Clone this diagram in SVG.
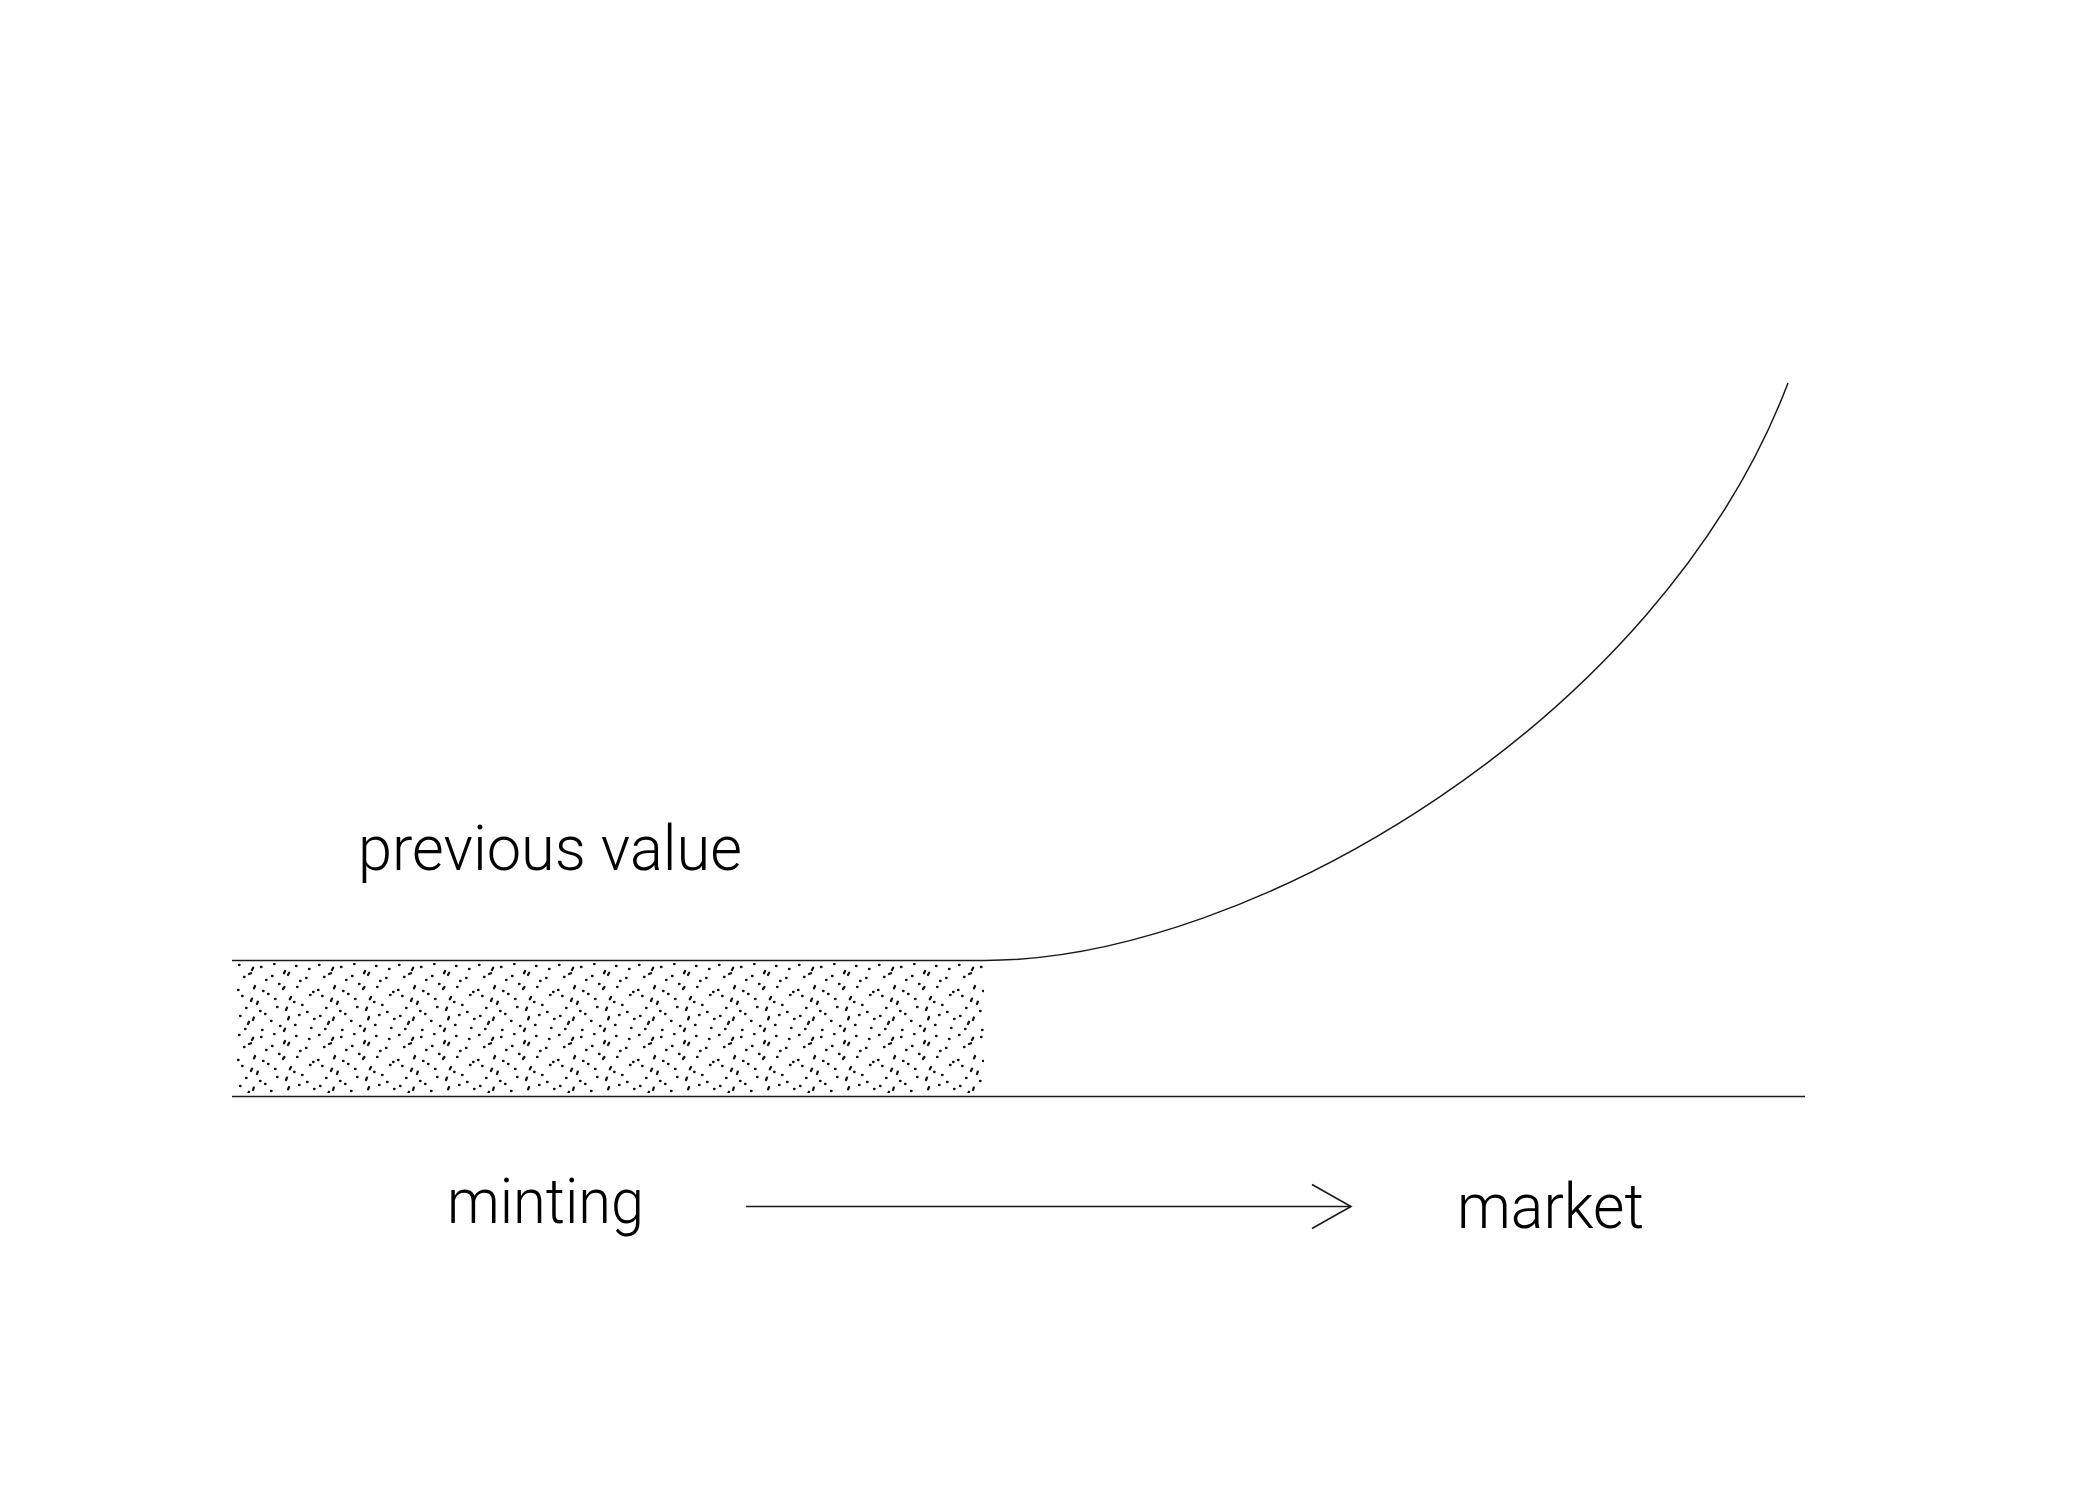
<svg xmlns="http://www.w3.org/2000/svg" width="2100" height="1500" viewBox="0 0 2100 1500">
  <style>
    .ln { fill: none; stroke: #1a1a1a; stroke-width: 1.5; }
    .lbl { font-family: Roboto, "Liberation Sans", Arial, sans-serif; font-weight: 300; font-size: 63px; fill: #000; }
    .dots { fill: none; stroke: #111; stroke-width: 2.3; stroke-linecap: round; }
  </style>
  <defs>
    <pattern id="stipple" x="236" y="963" width="80" height="70" patternUnits="userSpaceOnUse">
      <path class="dots" d="M3 2h0.6M16 7l1.2 -2.2M25 4h0.6M38 1h0.6M49 8l-1 2.2M60 3h0.6M73 6h0.6
        M8 14h0.6M13 11l2 -0.8M30 17h0.6M36 13h0.6M52 12l1.2 -2.2M64 18h0.6M70 15h0.6
        M2 27h0.6M19 23l-1 2.4M27 28h0.6M43 21h0.6M47 26l1.4 -2M61 24h0.6M77 29h0.6
        M6 33h0.6M15 38l1 -2.4M32 31h0.6M39 36h0.6M55 34l-1.2 2.2M58 39h0.6M74 32h0.6
        M10 45h0.6M21 41l0.8 -2.4M24 48h0.6M41 44h0.6M50 47l1 -2.4M66 42h0.6M71 49h0.6
        M4 53h0.6M17 57l0.8 -2.5M29 51h0.6M35 58h0.6M53 54l-0.9 2.4M63 52h0.6M78 56h0.6
        M9 66h0.6M12 61l1 -2.3M26 67h0.6M44 63h0.6M48 68l1 -2.4M59 62h0.6M75 65h0.6"/>
    </pattern>
    <marker id="openArrow" viewBox="0 0 44 50" refX="40" refY="25" markerWidth="44" markerHeight="50" markerUnits="userSpaceOnUse" orient="auto">
      <path d="M1 3 L40 25 L1 47" fill="none" stroke="#1a1a1a" stroke-width="1.6"/>
    </marker>
  </defs>
  <rect width="2100" height="1500" fill="#fff"/>

  <g id="previous-value-area">
    <rect x="236" y="963" width="748" height="130" fill="url(#stipple)"/>
  </g>

  <g id="connectors">
    <path id="baseline" class="ln" d="M232 1096.5 H1805"/>
    <path id="value-curve" class="ln" d="M232 960.5 H985 C1250 960.5 1660 720 1788 383"/>
    <path id="flow-arrow" class="ln" stroke="#333" stroke-width="1.7" d="M746 1206.5 H1351" marker-end="url(#openArrow)"/>
  </g>

  <g id="label-previous-value">
    <text class="lbl" x="358" y="869.5" textLength="384" lengthAdjust="spacingAndGlyphs">previous value</text>
  </g>
  <g id="label-minting">
    <text class="lbl" x="447" y="1222.5" textLength="197" lengthAdjust="spacingAndGlyphs">minting</text>
  </g>
  <g id="label-market">
    <text class="lbl" x="1457" y="1228" textLength="187" lengthAdjust="spacingAndGlyphs">market</text>
  </g>
</svg>
